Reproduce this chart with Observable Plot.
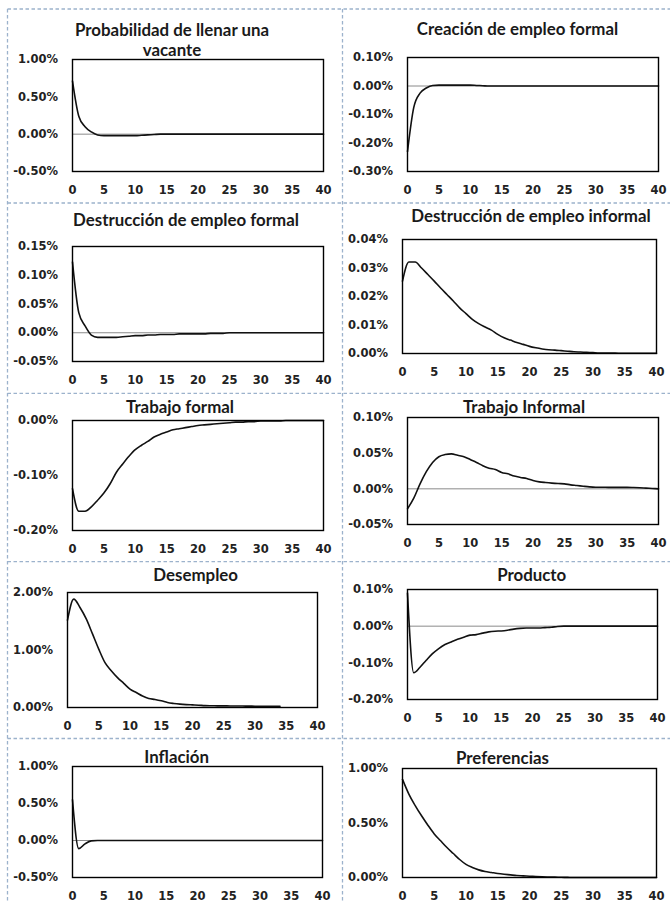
<!DOCTYPE html>
<html><head><meta charset="utf-8">
<script src="https://cdn.jsdelivr.net/npm/d3@7"></script>
<script src="https://cdn.jsdelivr.net/npm/@observablehq/plot@0.6"></script>
<style>
html,body{margin:0;padding:0;background:#fff;}
#page{position:relative;width:670px;height:903px;overflow:hidden;background:#fff;}
.panel{position:absolute;}
#overlay{position:absolute;left:0;top:0;pointer-events:none;}
</style></head><body><div id="page"></div>
<script>
// ---- data ----
const periods = [0,1,2,3,4,5,6,7,8,9,10,11,12,13,14,15,16,17,18,19,20,21,22,23,24,25,26,27,28,29,30,31,32,33,34,35,36,37,38,39,40];
const xTicks = [0,5,10,15,20,25,30,35,40];

const probLlenar = [0.71,0.24,0.10,0.03,-0.01,-0.02,-0.02,-0.02,-0.02,-0.02,-0.02,-0.015,-0.01,-0.005,0,0,0,0,0,0,0,0,0,0,0,0,0,0,0,0,0,0,0,0,0,0,0,0,0,0,0];
const creacionFormal = [-0.23,-0.075,-0.025,-0.007,0.002,0.003,0.003,0.003,0.003,0.003,0.003,0.002,0.001,0,0,0,0,0,0,0,0,0,0,0,0,0,0,0,0,0,0,0,0,0,0,0,0,0,0,0,0];
const destrFormal = [0.123,0.035,0.012,-0.004,-0.008,-0.008,-0.008,-0.008,-0.007,-0.006,-0.005,-0.005,-0.004,-0.004,-0.003,-0.003,-0.003,-0.002,-0.002,-0.002,-0.002,-0.002,-0.001,-0.001,-0.001,0,0,0,0,0,0,0,0,0,0,0,0,0,0,0,0];
const destrInformal = [0.0254,0.0321,0.0321,0.0300,0.0277,0.0254,0.0230,0.0207,0.0184,0.0160,0.0140,0.0120,0.0105,0.0093,0.0082,0.0067,0.0055,0.0047,0.0039,0.0032,0.0025,0.0020,0.0016,0.0013,0.0012,0.0010,0.0008,0.0006,0.0005,0.0004,0.0003,0.0002,0.0002,0.0002,0.0001,0.0001,0.0001,0.0001,0.0001,0.0001,0.0001];
const trabajoFormal = [-0.124,-0.165,-0.165,-0.157,-0.145,-0.132,-0.115,-0.094,-0.079,-0.065,-0.053,-0.045,-0.038,-0.030,-0.025,-0.021,-0.017,-0.015,-0.013,-0.011,-0.009,-0.008,-0.007,-0.006,-0.005,-0.004,-0.003,-0.003,-0.002,-0.002,-0.001,-0.001,-0.001,-0.001,0,0,0,0,0,0,0];
const trabajoInformal = [-0.028,-0.013,0.007,0.024,0.037,0.045,0.048,0.049,0.047,0.045,0.041,0.037,0.0325,0.029,0.027,0.023,0.021,0.018,0.016,0.0144,0.0116,0.0098,0.0088,0.008,0.0074,0.007,0.0056,0.0047,0.0037,0.0028,0.0023,0.0022,0.0021,0.002,0.002,0.002,0.0018,0.0015,0.001,0.0005,0];
const desempleo = [1.52,1.885,1.74,1.54,1.28,1.015,0.78,0.64,0.52,0.42,0.32,0.26,0.20,0.157,0.14,0.117,0.087,0.07,0.058,0.05,0.045,0.04,0.032,0.03,0.029,0.028,0.027,0.026,0.025,0.024,0.023,0.022,0.021,0.02,0.02];
const producto = [0.09,-0.127,-0.112,-0.093,-0.075,-0.061,-0.050,-0.043,-0.036,-0.030,-0.0245,-0.023,-0.019,-0.0155,-0.0137,-0.013,-0.011,-0.008,-0.006,-0.005,-0.005,-0.005,-0.004,-0.003,-0.001,0,0,0,0,0,0,0,0,0,0,0,0,0,0,0,0];
const inflacion = [0.55,-0.11,-0.045,-0.005,0,0,0,0,0,0,0,0,0,0,0,0,0,0,0,0,0,0,0,0,0,0,0,0,0,0,0,0,0,0,0,0,0,0,0,0,0];
const preferencias = [0.90,0.765,0.66,0.566,0.48,0.40,0.337,0.275,0.22,0.165,0.12,0.092,0.07,0.055,0.046,0.037,0.03,0.024,0.018,0.015,0.012,0.009,0.006,0.004,0.003,0.002,0.001,0,0,0,0,0,0,0,0,0,0,0,0,0,0];

const ticksProb = [-0.5,0,0.5,1.0];
const ticksCreacion = [-0.3,-0.2,-0.1,0,0.1];
const ticksDestrF = [-0.05,0,0.05,0.10,0.15];
const ticksDestrI = [0,0.01,0.02,0.03,0.04];
const ticksTrabF = [-0.2,-0.1,0];
const ticksTrabI = [-0.05,0,0.05,0.10];
const ticksDesemp = [0,1,2];
const ticksProd = [-0.2,-0.1,0,0.1];
const ticksInfl = [-0.5,0,0.5,1.0];
const ticksPref = [0,0.5,1.0];

const titleProb = ["Probabilidad de llenar una","vacante"];
const titleCreacion = ["Creación de empleo formal"];
const titleDestrF = ["Destrucción de empleo formal"];
const titleDestrI = ["Destrucción de empleo informal"];
const titleTrabF = ["Trabajo formal"];
const titleTrabI = ["Trabajo Informal"];
const titleDesemp = ["Desempleo"];
const titleProd = ["Producto"];
const titleInfl = ["Inflación"];
const titlePref = ["Preferencias"];

// ---- layout (page px) ----
const panels = [
  {title: titleProb, values: probLlenar, ticks: ticksProb, box: [72,59,323,171], tx: 172, ty: [36,56]},
  {title: titleCreacion, values: creacionFormal, ticks: ticksCreacion, box: [407,57,658,171], tx: 517.5, ty: [35]},
  {title: titleDestrF, values: destrFormal, ticks: ticksDestrF, box: [72,246,323,361], tx: 186, ty: [225.7]},
  {title: titleDestrI, values: destrInformal, ticks: ticksDestrI, box: [402,239,656,353], tx: 531, ty: [222.3]},
  {title: titleTrabF, values: trabajoFormal, ticks: ticksTrabF, box: [72,420,323,530], tx: 180, ty: [412.7]},
  {title: titleTrabI, values: trabajoInformal, ticks: ticksTrabI, box: [407,417,658,524], tx: 524, ty: [413]},
  {title: titleDesemp, values: desempleo, ticks: ticksDesemp, box: [67,592,317,707], tx: 195.7, ty: [580.7]},
  {title: titleProd, values: producto, ticks: ticksProd, box: [407,589,657,699], tx: 531.7, ty: [580.7]},
  {title: titleInfl, values: inflacion, ticks: ticksInfl, box: [72,766,322,877], tx: 176.7, ty: [763.3]},
  {title: titlePref, values: preferencias, ticks: ticksPref, box: [402,768,656,877], tx: 502.5, ty: [764.3]}
];

const page = document.getElementById("page");
const mL = 64, mT = 10, mR = 14, mB = 34;

for (const p of panels) {
  const [L, T, R, B] = p.box;
  const rows = p.values.map((v, i) => ({t: periods[i], v}));
  const chart = Plot.plot({
    width: R - L + mL + mR,
    height: B - T + mT + mB,
    marginLeft: mL, marginTop: mT, marginRight: mR, marginBottom: mB,
    style: {fontFamily: "'DejaVu Sans', sans-serif", fontSize: "11.5px", fontWeight: "bold", color: "#222", background: "transparent", overflow: "visible"},
    x: {type: "linear", domain: [0, 40], ticks: xTicks, tickSize: 0, tickPadding: 14.5, label: null, tickFormat: d => String(d)},
    y: {domain: [p.ticks[0], p.ticks[p.ticks.length - 1]], ticks: p.ticks, tickSize: 0, tickPadding: 14.5, label: null, tickFormat: d => d.toFixed(2) + "%"},
    marks: [
      Plot.ruleY([0], {stroke: "#8a8a8a", strokeWidth: 1}),
      Plot.line(rows, {x: "t", y: "v", stroke: "#111", strokeWidth: 1.6, curve: "monotone-x"}),
      Plot.frame({stroke: "#000", strokeWidth: 1.4})
    ]
  });
  chart.classList.add("panel");
  chart.style.left = (L - mL) + "px";
  chart.style.top = (T - mT) + "px";
  page.appendChild(chart);
}

// ---- overlay: dashed cell borders + titles ----
const ctx = document.createElement("canvas").getContext("2d");
ctx.font = "bold 20px Lato";
const wRef = ctx.measureText("Creación de empleo formal").width || 200;
const titleSize = Math.max(11, Math.min(18, 20 * 201.6 / wRef));

const svg = d3.select(page).append("svg").attr("id", "overlay").attr("width", 670).attr("height", 903);
const dash = {stroke: "#9cb2cc", "stroke-width": 1.3, "stroke-dasharray": "3.5,2.5"};
const vx = [7.5, 342.5];
const hy = [9, 203, 393.3, 561.7, 738.5];
for (const x of vx) {
  const l = svg.append("line").attr("x1", x).attr("x2", x).attr("y1", 9).attr("y2", 903);
  for (const k in dash) l.attr(k, dash[k]);
}
for (const y of hy) {
  const l = svg.append("line").attr("x1", 7.5).attr("x2", 670).attr("y1", y).attr("y2", y);
  for (const k in dash) l.attr(k, dash[k]);
}
for (const p of panels) {
  p.title.forEach((line, i) => {
    svg.append("text")
      .attr("x", p.tx).attr("y", p.ty[i])
      .attr("text-anchor", "middle")
      .attr("font-family", "Lato, 'Open Sans', sans-serif")
      .attr("font-weight", "bold")
      .attr("font-size", titleSize.toFixed(2) + "px")
      .attr("fill", "#1a1a1a")
      .text(line);
  });
}
</script>
</body></html>
